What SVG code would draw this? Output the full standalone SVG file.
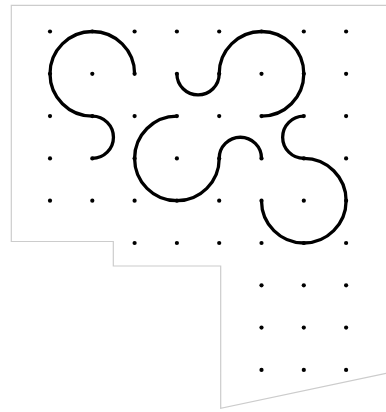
<svg xmlns="http://www.w3.org/2000/svg" width="386" height="412" viewBox="0 0 386 412">
<style>
.frame{fill:none;stroke:#cccccc;stroke-width:1.2}
.curve{fill:none;stroke:#000;stroke-width:3.3}
.dots circle{fill:#000}
</style>
<rect width="386" height="412" fill="#fff"/>
<polyline id="frame" class="frame" points="386,5.3 11.3,5.3 11.3,241.5 113.3,241.5 113.3,266 220.7,266 220.7,408.3 386,373.3"/>
<g id="curves">
<path class="curve" d="M134.6,73.8 A42.3,42.3 0 1 0 92.3,116.1 A21.15,21.15 0 0 1 92.3,158.4"/>
<path class="curve" d="M176.9,73.8 A21.15,21.15 0 0 0 219.2,73.8 A42.3,42.3 0 1 1 261.5,116.1"/>
<path class="curve" d="M176.9,116.1 A42.3,42.3 0 1 0 219.2,158.4 A21.15,21.15 0 0 1 261.5,158.4"/>
<path class="curve" d="M303.8,116.1 A21.15,21.15 0 0 0 303.8,158.4 A42.3,42.3 0 1 1 261.5,200.7"/>
</g>
<g id="dots" class="dots">
<circle cx="50" cy="31.5" r="2.1"/><circle cx="92.3" cy="31.5" r="2.1"/><circle cx="134.6" cy="31.5" r="2.1"/><circle cx="176.9" cy="31.5" r="2.1"/><circle cx="219.2" cy="31.5" r="2.1"/><circle cx="261.5" cy="31.5" r="2.1"/><circle cx="303.8" cy="31.5" r="2.1"/><circle cx="346.1" cy="31.5" r="2.1"/>
<circle cx="50" cy="73.8" r="2.1"/><circle cx="92.3" cy="73.8" r="2.1"/><circle cx="134.6" cy="73.8" r="2.1"/><circle cx="176.9" cy="73.8" r="2.1"/><circle cx="219.2" cy="73.8" r="2.1"/><circle cx="261.5" cy="73.8" r="2.1"/><circle cx="303.8" cy="73.8" r="2.1"/><circle cx="346.1" cy="73.8" r="2.1"/>
<circle cx="50" cy="116.1" r="2.1"/><circle cx="92.3" cy="116.1" r="2.1"/><circle cx="134.6" cy="116.1" r="2.1"/><circle cx="176.9" cy="116.1" r="2.1"/><circle cx="219.2" cy="116.1" r="2.1"/><circle cx="261.5" cy="116.1" r="2.1"/><circle cx="303.8" cy="116.1" r="2.1"/><circle cx="346.1" cy="116.1" r="2.1"/>
<circle cx="50" cy="158.4" r="2.1"/><circle cx="92.3" cy="158.4" r="2.1"/><circle cx="134.6" cy="158.4" r="2.1"/><circle cx="176.9" cy="158.4" r="2.1"/><circle cx="219.2" cy="158.4" r="2.1"/><circle cx="261.5" cy="158.4" r="2.1"/><circle cx="303.8" cy="158.4" r="2.1"/><circle cx="346.1" cy="158.4" r="2.1"/>
<circle cx="50" cy="200.7" r="2.1"/><circle cx="92.3" cy="200.7" r="2.1"/><circle cx="134.6" cy="200.7" r="2.1"/><circle cx="176.9" cy="200.7" r="2.1"/><circle cx="219.2" cy="200.7" r="2.1"/><circle cx="261.5" cy="200.7" r="2.1"/><circle cx="303.8" cy="200.7" r="2.1"/><circle cx="346.1" cy="200.7" r="2.1"/>
<circle cx="134.6" cy="243" r="2.1"/><circle cx="176.9" cy="243" r="2.1"/><circle cx="219.2" cy="243" r="2.1"/><circle cx="261.5" cy="243" r="2.1"/><circle cx="303.8" cy="243" r="2.1"/><circle cx="346.1" cy="243" r="2.1"/>
<circle cx="261.5" cy="285.3" r="2.1"/><circle cx="303.8" cy="285.3" r="2.1"/><circle cx="346.1" cy="285.3" r="2.1"/>
<circle cx="261.5" cy="327.6" r="2.1"/><circle cx="303.8" cy="327.6" r="2.1"/><circle cx="346.1" cy="327.6" r="2.1"/>
<circle cx="261.5" cy="369.9" r="2.1"/><circle cx="303.8" cy="369.9" r="2.1"/><circle cx="346.1" cy="369.9" r="2.1"/>
</g>
</svg>
